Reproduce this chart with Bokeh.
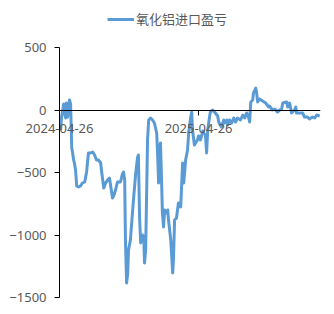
import pandas as pd
from bokeh.plotting import figure
from bokeh.models import (Range1d, FixedTicker, Legend, LegendItem, DatetimeTickFormatter)
from bokeh.embed import file_html
from bokeh.resources import INLINE

series_name = "氧化铝进口盈亏"
dates = [
    "2024-04-29", "2024-05-01", "2024-05-07", "2024-05-09", "2024-05-12", "2024-05-14", "2024-05-17",
    "2024-05-20", "2024-05-22", "2024-05-25", "2024-05-28", "2024-05-30", "2024-06-02", "2024-06-04",
    "2024-06-07", "2024-06-10", "2024-06-15", "2024-06-20", "2024-06-25", "2024-07-01", "2024-07-03",
    "2024-07-06", "2024-07-09", "2024-07-11", "2024-07-16", "2024-07-22", "2024-07-27", "2024-08-01",
    "2024-08-06", "2024-08-12", "2024-08-14", "2024-08-20", "2024-08-25", "2024-08-30", "2024-09-04",
    "2024-09-12", "2024-09-15", "2024-09-20", "2024-09-25", "2024-10-03", "2024-10-08", "2024-10-11",
    "2024-10-14", "2024-10-16", "2024-10-19", "2024-10-22", "2024-10-24", "2024-10-29", "2024-11-04",
    "2024-11-06", "2024-11-12", "2024-11-17", "2024-11-19", "2024-11-22", "2024-11-25", "2024-11-30",
    "2024-12-03", "2024-12-05", "2024-12-08", "2024-12-10", "2024-12-13", "2024-12-16", "2024-12-21",
    "2024-12-26", "2024-12-31", "2025-01-06", "2025-01-08", "2025-01-11", "2025-01-14", "2025-01-16",
    "2025-01-19", "2025-01-21", "2025-01-24", "2025-01-27", "2025-02-01", "2025-02-04", "2025-02-06",
    "2025-02-12", "2025-02-17", "2025-02-19", "2025-02-22", "2025-02-27", "2025-03-04", "2025-03-10",
    "2025-03-12", "2025-03-15", "2025-03-18", "2025-03-23", "2025-03-28", "2025-03-31", "2025-04-05",
    "2025-04-08", "2025-04-10", "2025-04-15", "2025-04-23", "2025-04-26", "2025-05-01", "2025-05-07",
    "2025-05-09", "2025-05-14", "2025-05-17", "2025-05-20", "2025-05-25", "2025-05-27", "2025-06-02",
    "2025-06-07", "2025-06-15", "2025-06-18", "2025-06-25", "2025-07-01", "2025-07-03", "2025-07-09",
    "2025-07-11", "2025-07-16", "2025-07-22", "2025-07-27", "2025-08-01", "2025-08-06", "2025-08-14",
    "2025-08-20", "2025-08-25", "2025-08-30", "2025-09-04", "2025-09-07", "2025-09-10", "2025-09-15",
    "2025-09-17", "2025-09-23", "2025-09-25", "2025-09-28", "2025-10-03", "2025-10-11", "2025-10-19",
    "2025-10-27", "2025-10-29", "2025-11-06", "2025-11-12", "2025-11-19", "2025-11-25", "2025-11-30",
    "2025-12-03", "2025-12-13", "2025-12-16", "2025-12-21", "2025-12-26", "2026-01-03", "2026-01-06",
    "2026-01-08", "2026-01-16", "2026-01-24", "2026-01-29", "2026-02-06", "2026-02-11", "2026-02-19",
    "2026-02-25", "2026-03-02", "2026-03-10",
]
values = [
    -160, -64, 48, -16, -64, 56, -56,
    16, 80, 48, -304, -336, -400, -424,
    -480, -608, -616, -608, -584, -576, -544,
    -496, -400, -344, -344, -336, -360, -400,
    -400, -424, -480, -624, -584, -560, -544,
    -704, -688, -640, -576, -576, -512, -496,
    -560, -1040, -1384, -1304, -1120, -1040, -800,
    -720, -504, -376, -360, -856, -1064, -1000,
    -1016, -1224, -1120, -776, -240, -80, -64,
    -80, -104, -184, -320, -584, -296, -264,
    -584, -824, -936, -800, -824, -800, -880,
    -1040, -1304, -1200, -880, -864, -744, -776,
    -640, -424, -584, -400, -320, -184, -64,
    -16, -160, -280, -240, -208, -240, -168,
    -184, -200, -344, -160, -48, -16, 0,
    -16, -48, -96, -136, -80, -104, -80,
    -120, -80, -104, -64, -96, -64, -80,
    -40, -64, -24, -56, -96, 64, 80,
    136, 176, 144, 64, 88, 72, 56,
    24, 32, 0, 8, -16, 0, 8,
    56, 64, 24, 56, -24, 0, 24,
    -24, -24, -24, -56, -56, -72, -56,
    -64, -40, -48,
]
x_tick_labels = ["2024-04-26", "2025-04-26"]
y_ticks = [-1500, -1000, -500, 0, 500]

dt = pd.to_datetime(dates)
tick_dt = pd.to_datetime(x_tick_labels)
tick_ms = [d.timestamp() * 1000 for d in tick_dt]

x_start = tick_dt[0]
x_end = pd.Timestamp("2026-03-12")
x_view_start = x_start - pd.Timedelta(days=155)   # room on the left for y labels

p = figure(width=334, height=314, x_axis_type="datetime", output_backend="svg",
           toolbar_location=None,
           x_range=Range1d(x_view_start, x_end),
           y_range=Range1d(-1636, 876),
           min_border_left=0, min_border_right=14, min_border_top=0, min_border_bottom=0)
p.outline_line_color = None
p.grid.visible = False
p.background_fill_color = "white"

# y axis (crossing at the first date)
yax = p.yaxis[0]
yax.fixed_location = tick_ms[0]
yax.ticker = FixedTicker(ticks=y_ticks)
yax.bounds = (y_ticks[0], y_ticks[-1])
yax.major_tick_out = 5
yax.major_tick_in = 0
yax.minor_tick_out = 0
yax.minor_tick_in = 0
yax.axis_line_color = "black"
yax.major_tick_line_color = "black"
yax.major_label_text_font = "Noto Sans"
yax.major_label_text_font_size = "13px"
yax.major_label_text_color = "#595959"
yax.major_label_standoff = 8

# x axis (crossing at zero)
xax = p.xaxis[0]
xax.fixed_location = 0
xax.ticker = FixedTicker(ticks=tick_ms)
xax.formatter = DatetimeTickFormatter(days="%Y-%m-%d", months="%Y-%m-%d", years="%Y-%m-%d")
xax.bounds = (tick_ms[0], x_end.timestamp() * 1000)
xax.major_tick_out = 5
xax.major_tick_in = 0
xax.minor_tick_out = 0
xax.minor_tick_in = 0
xax.axis_line_color = "black"
xax.major_tick_line_color = "black"
xax.major_label_text_font = "Noto Sans"
xax.major_label_text_font_size = "13px"
xax.major_label_text_color = "#595959"
xax.major_label_standoff = 9

r = p.line(dt, values, line_color="#5B9BD5", line_width=3, line_join="round")

legend = Legend(items=[LegendItem(label=series_name, renderers=[r])], location=(107, 286),
                orientation="horizontal", padding=0, margin=0, border_line_color=None,
                background_fill_alpha=0, glyph_width=27, glyph_height=16, label_height=16,
                label_standoff=2, label_text_font="Noto Sans CJK SC",
                label_text_font_size="13px", label_text_color="#595959")
p.add_layout(legend, "center")

open("out.html", "w").write(file_html(p, INLINE))
